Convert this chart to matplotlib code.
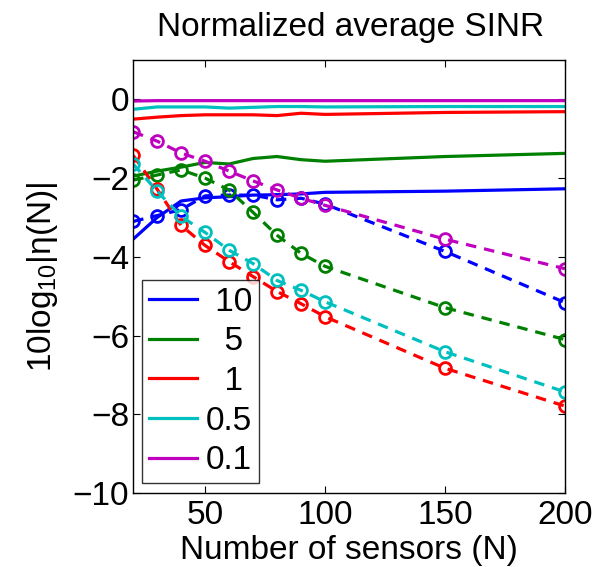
import matplotlib
matplotlib.use("Agg")
import matplotlib.pyplot as plt

plt.rcParams['font.family'] = ['Liberation Sans', 'DejaVu Sans']
plt.rcParams['mathtext.fontset'] = 'custom'
plt.rcParams['mathtext.rm'] = 'Liberation Sans'
plt.rcParams['mathtext.it'] = 'Liberation Sans'

N = [20, 30, 40, 50, 60, 70, 80, 90, 100, 150, 200]
labels = ["10", "5", "1", "0.5", "0.1"]
colors = ["#0000ff", "#008000", "#ff0000", "#00bfbf", "#bf00bf"]

# solid curves (no markers)
solid_10 = [-3.55, -3.0, -2.58, -2.5, -2.47, -2.43, -2.42, -2.4, -2.36, -2.33, -2.27]
solid_5 = [-1.95, -1.82, -1.72, -1.6, -1.64, -1.5, -1.45, -1.53, -1.57, -1.45, -1.37]
solid_1 = [-0.5, -0.45, -0.41, -0.39, -0.39, -0.39, -0.41, -0.35, -0.38, -0.33, -0.31]
solid_05 = [-0.25, -0.19, -0.19, -0.19, -0.22, -0.2, -0.18, -0.18, -0.19, -0.18, -0.18]
solid_01 = [-0.04, -0.03, -0.03, -0.03, -0.03, -0.03, -0.03, -0.03, -0.03, -0.03, -0.03]

# dashed curves with circle markers
dash_10 = [-3.1, -2.95, -2.8, -2.45, -2.43, -2.43, -2.55, -2.51, -2.66, -3.86, -5.16]
dash_5 = [-2.05, -1.92, -1.79, -2.0, -2.3, -2.87, -3.45, -3.91, -4.24, -5.29, -6.1]
dash_1 = [-1.42, -2.28, -3.2, -3.71, -4.12, -4.5, -4.88, -5.19, -5.52, -6.83, -7.79]
dash_05 = [-1.64, -2.33, -2.97, -3.38, -3.83, -4.17, -4.6, -4.85, -5.14, -6.41, -7.43]
dash_01 = [-0.82, -1.06, -1.36, -1.57, -1.82, -2.07, -2.3, -2.51, -2.69, -3.55, -4.3]

solids = [solid_10, solid_5, solid_1, solid_05, solid_01]
dashes = [dash_10, dash_5, dash_1, dash_05, dash_01]

fig = plt.figure(figsize=(6.08, 5.67), dpi=100)
ax = fig.add_axes([0.219, 0.1305, 0.71, 0.7635])

FS = 24
lw = 2.3
handles = []
for lab, c, s in zip(labels, colors, solids):
    h, = ax.plot(N, s, color=c, lw=lw, label=lab.rjust(3))
    handles.append(h)
for c, d in zip(colors, dashes):
    ax.plot(N, d, color=c, lw=lw, linestyle=(0, (3.3, 2.5)),
            marker='o', markersize=8.5, markerfacecolor='none',
            markeredgewidth=2.0, markeredgecolor=c)

ax.set_xlim(20, 200)
ax.set_ylim(-10, 1)
ax.set_xticks([50, 100, 150, 200])
ax.set_yticks([0, -2, -4, -6, -8, -10])
ax.tick_params(direction='in', top=True, right=True, labelsize=FS, length=5, width=0.8)
ax.tick_params(axis='x', pad=5)
ax.tick_params(axis='y', pad=3)
for sp in ax.spines.values():
    sp.set_linewidth(1.0)

ax.set_title("Normalized average SINR", fontsize=FS, pad=17, x=0.5045)
ax.set_xlabel("Number of sensors (N)", fontsize=FS, labelpad=3)
ax.set_ylabel("10log$_{10}$|η(N)|", fontsize=FS, labelpad=9)

leg = ax.legend(handles=handles, loc='lower left', bbox_to_anchor=(0.021, 0.023),
                fontsize=FS, frameon=True, fancybox=False, edgecolor='black',
                handlelength=1.44, handletextpad=0.27, labelspacing=0.26,
                borderpad=0.2, borderaxespad=0)
leg.get_frame().set_linewidth(1.0)

fig.savefig("out.png", dpi=100)
